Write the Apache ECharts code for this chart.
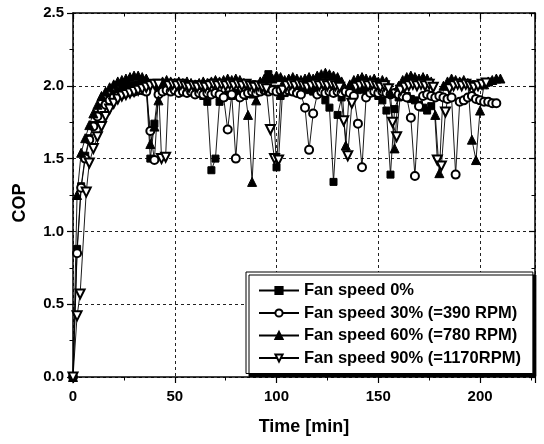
<!DOCTYPE html>
<html>
<head>
<meta charset="utf-8">
<script src="https://cdn.jsdelivr.net/npm/echarts@6/dist/echarts.min.js"></script>
<style>
  html, body { margin: 0; padding: 0; background: #fff; }
  #chart { width: 544px; height: 444px; }
</style>
</head>
<body>
<div id="chart"></div>
<script>
// Fan speed 0% (filled squares)
const timeSq = [0, 2, 4, 6, 8, 10, 12, 14, 16, 18, 20, 22, 24, 26, 28, 30, 32, 34, 36, 38, 40, 42, 44, 46, 48, 50,
  52, 54, 56, 58, 60, 62, 64, 66, 68, 70, 72, 74, 76, 78, 80, 82, 84, 86, 88, 90, 92, 94, 96, 98, 100, 102,
  104, 106, 108, 110, 112, 114, 116, 118, 120, 122, 124, 126, 128, 130, 132, 134, 136, 138, 140, 142, 144,
  146, 148, 150, 152, 154, 156, 158, 160, 162, 164, 166, 168, 170, 172, 174, 176]
const copSq = [0.00, 0.88, 1.31, 1.52, 1.64, 1.73, 1.80, 1.85, 1.89, 1.92, 1.94, 1.96, 1.98, 1.99, 2.00, 2.00, 2.01,
  2.00, 1.99, 1.50, 1.74, 1.98, 2.00, 1.99, 2.00, 1.99, 1.98, 1.99, 1.97, 1.98, 1.96, 1.95, 1.93, 1.89, 1.42, 1.50,
  1.89, 1.92, 1.94, 1.93, 1.95, 1.94, 1.93, 1.95, 1.94, 1.96, 1.97, 2.01, 2.08, 1.98, 1.44, 1.93, 1.95, 1.96, 1.97,
  1.96, 1.97, 1.98, 1.97, 1.96, 1.97, 1.95, 1.90, 1.85, 1.34, 1.80, 1.92, 1.96, 1.97, 1.98, 1.97, 1.98, 1.97, 1.96,
  1.95, 1.93, 1.90, 1.83, 1.39, 1.84, 1.92, 1.93, 1.93, 1.91, 1.90, 1.87, 1.85, 1.83, 1.86]

// Fan speed 30% (open circles)
const timeCi = [0, 2, 4, 6, 8, 10, 12, 14, 16, 18, 20, 22, 24, 26, 28, 30, 32, 34, 36, 38, 40, 42, 44, 46, 48, 50,
  52, 54, 56, 58, 60, 62, 64, 66, 68, 70, 72, 74, 76, 78, 80, 82, 84, 86, 88, 90, 92, 94, 96, 98, 100, 102,
  104, 106, 108, 110, 112, 114, 116, 118, 120, 122, 124, 126, 128, 130, 132, 134, 136, 138, 140, 142, 144,
  146, 148, 150, 152, 154, 156, 158, 160, 162, 164, 166, 168, 170, 172, 174, 176, 178, 180, 182, 184, 186,
  188, 190, 192, 194, 196, 198, 200, 202, 204, 206, 208]
const copCi = [0.00, 0.85, 1.30, 1.50, 1.63, 1.72, 1.79, 1.84, 1.87, 1.90, 1.92, 1.93, 1.94, 1.95, 1.96, 1.96, 1.97,
  1.97, 1.96, 1.69, 1.49, 1.94, 1.96, 1.97, 1.96, 1.97, 1.95, 1.96, 1.95, 1.96, 1.94, 1.95, 1.94, 1.95, 1.94, 1.95,
  1.94, 1.92, 1.70, 1.94, 1.50, 1.92, 1.94, 1.95, 1.96, 1.95, 1.96, 1.97, 1.96, 1.97, 1.96, 1.97, 1.96, 1.97, 1.96,
  1.95, 1.94, 1.85, 1.56, 1.81, 1.94, 1.96, 1.95, 1.96, 1.95, 1.96, 1.95, 1.96, 1.95, 1.93, 1.74, 1.44, 1.92, 1.95,
  1.96, 1.95, 1.96, 1.95, 1.94, 1.95, 1.94, 1.93, 1.92, 1.78, 1.38, 1.86, 1.93, 1.94, 1.93, 1.92, 1.93, 1.92, 1.91,
  1.92, 1.39, 1.89, 1.90, 1.92, 1.93, 1.91, 1.90, 1.89, 1.89, 1.88, 1.88]

// Fan speed 60% (filled triangles)
const timeTr = [0, 2, 4, 6, 8, 10, 12, 14, 16, 18, 20, 22, 24, 26, 28, 30, 32, 34, 36, 38, 40, 42, 44, 46, 48, 50,
  52, 54, 56, 58, 60, 62, 64, 66, 68, 70, 72, 74, 76, 78, 80, 82, 84, 86, 88, 90, 92, 94, 96, 98, 100, 102,
  104, 106, 108, 110, 112, 114, 116, 118, 120, 122, 124, 126, 128, 130, 132, 134, 136, 138, 140, 142, 144,
  146, 148, 150, 152, 154, 156, 158, 160, 162, 164, 166, 168, 170, 172, 174, 176, 178, 180, 182, 184, 186,
  188, 190, 192, 194, 196, 198, 200, 202, 204, 206, 208, 210]
const copTr = [0.00, 1.25, 1.54, 1.64, 1.73, 1.81, 1.87, 1.93, 1.96, 1.99, 2.01, 2.03, 2.04, 2.05, 2.06, 2.07, 2.07,
  2.06, 2.05, 1.60, 1.72, 1.90, 2.03, 2.04, 2.03, 2.02, 2.03, 2.02, 2.03, 2.02, 2.01, 2.02, 2.03, 2.02, 2.03, 2.04,
  2.03, 2.04, 2.05, 2.04, 2.05, 2.04, 2.02, 1.80, 1.34, 1.90, 2.03, 2.05, 2.06, 2.05, 2.07, 2.06, 2.04, 2.05, 2.06,
  2.05, 2.04, 2.05, 2.06, 2.05, 2.07, 2.08, 2.09, 2.08, 2.07, 2.06, 2.03, 1.59, 2.01, 2.04, 2.05, 2.06, 2.05, 2.04,
  2.05, 2.03, 2.04, 2.03, 1.95, 1.57, 2.00, 2.04, 2.06, 2.07, 2.06, 2.05, 2.06, 2.05, 2.03, 1.80, 1.40, 2.00, 2.03,
  2.05, 2.04, 2.03, 2.04, 2.02, 1.63, 1.49, 1.83, 2.01, 2.03, 2.04, 2.05, 2.05]

// Fan speed 90% (open down triangles)
const timeTd = [0, 2, 3.5, 6.5, 8, 10, 12, 14, 16, 18, 20, 22, 24, 26, 28, 30, 32, 34, 36, 38, 40, 42, 43.5, 45.5,
  47, 49, 51, 53, 55, 57, 59, 61, 63, 65, 67, 69, 71, 73, 75, 77, 79, 81, 83, 85, 87, 89, 91, 93, 95, 97, 99,
  101, 103, 105, 107, 109, 111, 113, 115, 117, 119, 121, 123, 125, 127, 129, 131, 133, 135, 137, 139, 141,
  143, 145, 147, 149, 151, 153, 155, 157, 159, 161, 163, 165, 167, 169, 171, 173, 175, 177, 179, 181, 183,
  185, 187, 189, 191, 193, 195, 197, 199, 201, 203]
const copTd = [0.00, 0.42, 0.57, 1.27, 1.47, 1.57, 1.65, 1.72, 1.79, 1.84, 1.88, 1.91, 1.93, 1.94, 1.95, 1.96, 1.97,
  1.98, 1.99, 2.00, 2.01, 2.01, 1.50, 1.51, 2.00, 2.01, 2.00, 2.01, 2.00, 1.99, 2.00, 1.99, 2.00, 1.99, 2.00, 2.01,
  2.00, 2.01, 2.00, 2.01, 2.00, 2.01, 2.00, 2.01, 2.00, 1.99, 2.00, 1.99, 1.98, 1.70, 1.50, 1.49, 1.97, 2.00, 2.01,
  2.00, 2.01, 2.00, 1.99, 2.00, 2.01, 2.00, 2.01, 2.00, 2.01, 2.00, 1.99, 1.76, 1.52, 1.88, 1.99, 2.00, 2.01, 2.00,
  2.01, 2.00, 1.99, 2.00, 1.98, 1.75, 1.65, 1.97, 1.99, 2.00, 2.01, 2.00, 2.01, 2.00, 2.01, 1.99, 1.49, 1.45, 1.82,
  1.98, 2.00, 2.01, 2.00, 2.01, 2.00, 1.99, 2.00, 2.01, 2.02]

const seriesNames = ['Fan speed 0%', 'Fan speed 30% (=390 RPM)', 'Fan speed 60% (=780 RPM)', 'Fan speed 90% (=1170RPM)']
const yTicks = [0, 0.5, 1.0, 1.5, 2.0, 2.5]

const font = 'Liberation Sans, Arial, sans-serif'

function pairs(ts, vs) {
  return ts.map((t, i) => [t, vs[i]])
}

function lineSeries(name, ts, vs, symbol, extra) {
  return Object.assign({
    name: name,
    type: 'line',
    data: pairs(ts, vs),
    symbol: symbol,
    symbolSize: 7,
    showSymbol: true,
    showAllSymbol: true,
    color: '#000',
    lineStyle: { color: '#000', width: 0.9 },
    itemStyle: { color: '#000', borderColor: '#000', borderWidth: 1 },
    emphasis: { disabled: true }
  }, extra || {})
}

// bottom/left: ticks outside; top/right mirror: ticks inside
function frameAxis(inside) {
  return {
    axisLine: { show: true, onZero: false, lineStyle: { color: '#000', width: 1.5 } },
    axisTick: { show: true, inside: inside, length: 6, lineStyle: { color: '#000', width: 1.2 } },
    minorTick: { show: true, splitNumber: 2, length: 3.5, lineStyle: { color: '#000', width: 1 } }
  }
}

const chart = echarts.init(document.getElementById('chart'))
chart.setOption({
  animation: false,
  backgroundColor: '#fff',
  textStyle: { fontFamily: font },
  grid: { left: 73, right: 9, top: 13, bottom: 67 },
  legend: {
    orient: 'vertical',
    left: 246,
    top: 272,
    padding: [10, 12, 7, 12],
    itemGap: 5.5,
    itemWidth: 40,
    itemHeight: 9,
    itemTextGap: 7,
    backgroundColor: '#fff',
    borderColor: '#000',
    borderWidth: 1,
    borderRadius: 0,
    shadowColor: '#000',
    shadowBlur: 0,
    shadowOffsetX: 3,
    shadowOffsetY: 3,
    textStyle: { color: '#000', fontSize: 16.5, fontWeight: 'bold', fontFamily: font },
    data: seriesNames
  },
  xAxis: [
    Object.assign({
      type: 'value',
      min: 0,
      max: 227,
      interval: 50,
      name: 'Time [min]',
      nameLocation: 'middle',
      nameGap: 41,
      nameTextStyle: { color: '#000', fontSize: 18, fontWeight: 'bold', fontFamily: font },
      axisLabel: { color: '#000', fontSize: 15, fontWeight: 'bold', margin: 12, fontFamily: font,
        showMaxLabel: false },
      splitLine: { show: true, lineStyle: { color: '#222', type: [3, 3], width: 1 } }
    }, frameAxis(false)),
    Object.assign({
      type: 'value',
      position: 'top',
      min: 0,
      max: 227,
      interval: 50,
      axisLabel: { show: false },
      splitLine: { show: false }
    }, frameAxis(true))
  ],
  yAxis: [
    Object.assign({
      type: 'value',
      min: 0,
      max: 2.5,
      interval: 0.5,
      name: 'COP',
      nameLocation: 'middle',
      nameGap: 44,
      nameTextStyle: { color: '#000', fontSize: 18, fontWeight: 'bold', fontFamily: font,
        padding: [0, 16, 0, 0] },
      axisLabel: { color: '#000', fontSize: 15, fontWeight: 'bold', margin: 9, fontFamily: font,
        formatter: (v) => (yTicks.indexOf(v) >= 0 ? v.toFixed(1) : '') },
      splitLine: { show: true, lineStyle: { color: '#222', type: [3, 3], width: 1 } }
    }, frameAxis(false)),
    Object.assign({
      type: 'value',
      position: 'right',
      min: 0,
      max: 2.5,
      interval: 0.5,
      axisLabel: { show: false },
      splitLine: { show: false }
    }, frameAxis(true))
  ],
  series: [
    lineSeries(seriesNames[0], timeSq, copSq, 'rect', { symbolSize: 7 }),
    lineSeries(seriesNames[1], timeCi, copCi, 'emptyCircle', { symbolSize: 8 }),
    lineSeries(seriesNames[2], timeTr, copTr, 'triangle', { symbolSize: 9 }),
    lineSeries(seriesNames[3], timeTd, copTd, 'emptyTriangle', { symbolSize: 9, symbolRotate: 180 })
  ]
})
</script>
</body>
</html>
